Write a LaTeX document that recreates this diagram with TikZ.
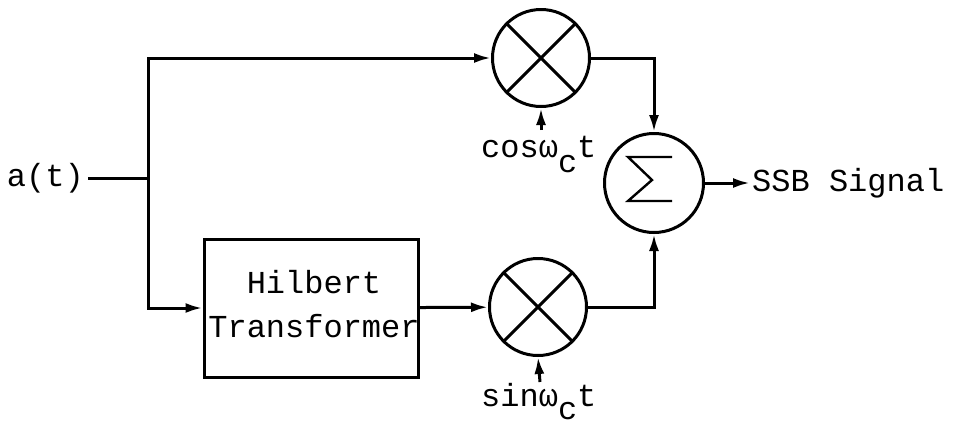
\documentclass[tikz,border=0pt]{standalone}
\usepackage{fontspec}
\newfontfamily\monofam{Liberation Mono}
\usetikzlibrary{arrows.meta,calc}
\tikzset{
  wire/.style={line width=3pt},
  arr/.style={wire,-{Latex[length=17pt,width=10pt]}},
  mult/.style={circle,draw,line width=3pt,minimum size=97pt,inner sep=0pt},
  blk/.style={draw,line width=3pt,minimum width=214pt,minimum height=138pt,inner sep=0pt},
  lbl/.style={font=\monofam\fontsize{32}{38}\selectfont,inner sep=0pt}
}
\begin{document}
\begin{tikzpicture}[x=1pt,y=-1pt]
\useasboundingbox (0,0) rectangle (954,426);
% nodes
\node[lbl,anchor=east,inner sep=4pt] (a) at (88,178) {a(t)};
\coordinate (J) at (148,178);
\node[mult] (m1) at (541,58) {};
\node[mult] (m2) at (538,307) {};
\node[mult,minimum size=99pt] (sum) at (654,183) {};
\node[blk] (box) at (311,308) {};
\node[lbl] (hil) at (314,282) {Hilbert};
\node[lbl] (tra) at (314,326) {Transformer};
\node[lbl,anchor=west,inner sep=2pt] (out) at (750,183) {SSB Signal};
\node[lbl,anchor=base west] (cosl) at (481,157) {cosω\raisebox{-15pt}{c}t};
\node[lbl,anchor=base west] (sinl) at (481,406) {sinω\raisebox{-13pt}{c}t};
\coordinate (ct) at (541,130);
\coordinate (st) at (540,382);
% crosses
\draw[wire] (m1.north west) -- (m1.south east) (m1.north east) -- (m1.south west);
\draw[wire] (m2.north west) -- (m2.south east) (m2.north east) -- (m2.south west);
% sigma
\draw[line width=2.4pt,line join=miter]
  ($(sum.center)+(18,-26)$) -- ($(sum.center)+(-26,-26)$) -- ($(sum.center)+(-2,-3)$)
  -- ($(sum.center)+(-26,18)$) -- ($(sum.center)+(18,18)$);
% connectors
\draw[wire] (a) -- (J);
\draw[arr] (J) |- (m1);
\draw[arr] (J) |- (box);
\draw[arr] (box) -- (m2);
\draw[arr] (m1) -| (sum);
\draw[arr] (m2) -| (sum);
\draw[arr] (sum) -- (out);
\draw[arr] (ct) -- (m1.south);
\draw[arr] (st) -- (m2.south);
\end{tikzpicture}
\end{document}
